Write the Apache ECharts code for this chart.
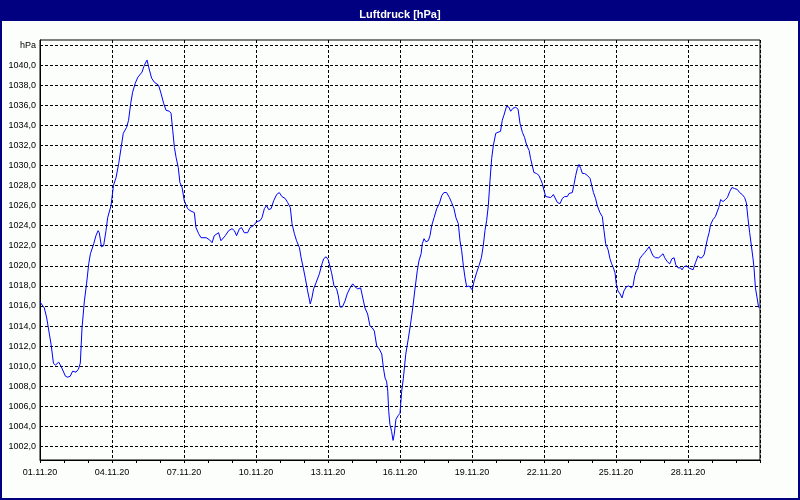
<!DOCTYPE html>
<html>
<head>
<meta charset="utf-8">
<script src="https://cdn.jsdelivr.net/npm/echarts@6/dist/echarts.min.js"></script>
<style>
html,body{margin:0;padding:0;background:#fbfefb;}
#chart{width:800px;height:500px;}
</style>
</head>
<body>
<div id="chart"></div>
<script>
// time in days since 01.11.20 00:00
var days = [
0,0.18,0.28,0.39,0.46,0.56,0.64,0.78,0.875,1.06,1.15,1.26,1.36,1.5,1.6,1.68,1.75,1.85,1.94,2.03,
2.1,2.24,2.33,2.42,2.47,2.56,2.65,2.75,2.82,2.96,3.06,3.17,3.28,3.375,3.47,3.61,3.69,3.78,3.86,3.97,
4.08,4.25,4.35,4.46,4.56,4.65,4.76,4.83,4.94,5.04,5.15,5.25,5.39,5.46,5.53,5.6,5.67,5.76,5.83,5.92,
6.01,6.15,6.25,6.43,6.5,6.61,6.71,6.92,7.06,7.17,7.26,7.44,7.54,7.61,7.72,7.86,8.0,8.1,8.19,8.31,
8.4,8.51,8.65,8.75,8.89,9.03,9.17,9.25,9.35,9.44,9.53,9.63,9.74,9.86,9.97,10.08,10.22,10.32,10.43,10.5,
10.6,10.69,10.81,10.88,10.97,11.06,11.15,11.22,11.26,11.33,11.4,11.5,11.64,11.75,11.82,11.92,12.01,12.15,12.25,12.36,
12.43,12.5,12.6,12.71,12.8,12.92,13.03,13.13,13.24,13.36,13.44,13.54,13.65,13.75,13.85,13.93,14.03,14.14,14.24,14.31,
14.38,14.44,14.49,14.53,14.58,14.65,14.71,14.76,14.83,14.93,15.0,15.07,15.14,15.24,15.35,15.44,15.53,15.63,15.72,15.79,
15.88,15.93,16.0,16.08,16.18,16.25,16.32,16.42,16.53,16.64,16.74,16.83,16.94,17.06,17.15,17.25,17.33,17.43,17.5,17.57,
17.64,17.71,17.78,17.88,17.94,18.01,18.08,18.19,18.29,18.39,18.47,18.54,18.61,18.68,18.75,18.82,18.89,18.99,19.08,19.19,
19.26,19.33,19.44,19.54,19.61,19.71,19.82,19.92,20.0,20.1,20.19,20.28,20.38,20.44,20.51,20.58,20.69,20.79,20.86,20.93,
21.0,21.07,21.14,21.28,21.39,21.44,21.56,21.67,21.76,21.86,21.97,22.04,22.18,22.25,22.32,22.39,22.46,22.53,22.6,22.69,
22.81,22.92,22.99,23.06,23.15,23.22,23.33,23.43,23.5,23.57,23.67,23.75,23.82,23.89,23.96,24.01,24.08,24.17,24.25,24.33,
24.43,24.53,24.64,24.71,24.78,24.85,24.92,24.99,25.08,25.19,25.29,25.38,25.44,25.54,25.65,25.78,25.86,25.96,26.03,26.14,
26.24,26.33,26.42,26.49,26.58,26.69,26.75,26.83,26.93,27.03,27.11,27.21,27.31,27.42,27.49,27.58,27.67,27.74,27.81,27.88,
27.94,28.04,28.14,28.22,28.28,28.36,28.46,28.56,28.64,28.74,28.83,28.94,29.06,29.15,29.26,29.36,29.43,29.5,29.57,29.64,
29.71,29.75,29.81,29.88,29.94,29.97
];
var pressure = [
1016.4,1015.8,1014.8,1013.2,1012.2,1010.3,1010.1,1010.4,1010.0,1009.0,1008.9,1009.0,1009.5,1009.4,1009.7,1010.3,1013.8,1016.5,1018.2,1020.2,
1021.2,1022.2,1023.0,1023.5,1023.3,1021.9,1022.0,1023.5,1024.8,1026.0,1028.0,1028.8,1030.2,1031.7,1033.2,1033.8,1034.5,1036.2,1037.3,1038.2,
1038.8,1039.3,1040.0,1040.5,1039.5,1038.7,1038.3,1038.4,1038.0,1037.2,1036.2,1035.5,1035.4,1035.2,1033.5,1031.8,1030.8,1029.8,1028.3,1027.8,
1026.5,1025.7,1025.5,1025.3,1023.8,1023.2,1022.8,1022.8,1022.6,1022.3,1023.0,1023.3,1022.5,1022.4,1023.0,1023.5,1023.7,1023.5,1023.0,1023.7,
1023.8,1023.3,1023.3,1023.8,1024.0,1024.4,1024.5,1024.8,1025.7,1026.0,1025.6,1025.7,1026.5,1027.1,1027.3,1026.9,1026.7,1026.3,1025.8,1024.2,
1023.2,1022.5,1021.8,1020.8,1019.8,1018.7,1017.5,1016.7,1016.2,1016.8,1017.7,1018.3,1019.2,1020.2,1020.7,1020.9,1020.6,1019.3,1018.0,1017.7,
1017.0,1015.9,1015.9,1016.5,1017.2,1017.8,1018.2,1017.9,1017.7,1017.8,1017.7,1015.8,1015.2,1014.0,1013.8,1013.5,1012.0,1011.7,1011.2,1009.8,
1008.8,1008.5,1007.5,1005.5,1004.2,1003.5,1002.6,1003.2,1004.7,1005.1,1005.3,1007.5,1008.8,1011.2,1012.8,1014.2,1015.8,1017.8,1019.5,1020.5,
1021.2,1022.2,1022.7,1022.4,1022.5,1023.0,1024.0,1024.8,1025.7,1026.2,1027.0,1027.3,1027.3,1026.8,1026.3,1025.7,1024.8,1024.2,1022.5,1021.5,
1020.0,1018.8,1017.9,1018.0,1018.1,1017.6,1018.4,1019.3,1020.0,1020.8,1022.0,1023.5,1024.5,1026.0,1028.5,1030.7,1032.0,1033.2,1033.3,1033.4,
1034.5,1035.0,1035.9,1035.8,1035.4,1035.7,1035.8,1035.6,1034.2,1033.3,1032.8,1032.0,1031.5,1030.7,1030.0,1029.3,1029.2,1029.0,1028.6,1028.2,
1027.5,1026.9,1026.8,1026.8,1027.1,1027.2,1026.3,1026.2,1026.7,1026.9,1026.9,1027.2,1027.3,1028.1,1029.0,1029.7,1030.1,1029.7,1029.2,1029.2,
1029.0,1028.7,1028.0,1027.3,1026.7,1026.0,1025.3,1024.9,1023.5,1022.2,1021.6,1020.7,1020.2,1019.8,1019.3,1018.2,1017.5,1017.2,1016.8,1017.5,
1017.9,1018.0,1017.8,1018.0,1019.0,1019.5,1019.8,1020.7,1021.0,1021.3,1021.6,1021.9,1022.0,1021.0,1020.8,1020.8,1020.9,1021.2,1020.8,1020.4,
1020.2,1020.7,1020.8,1020.1,1019.8,1019.8,1019.6,1019.9,1020.0,1019.8,1019.7,1019.6,1020.3,1021.0,1020.8,1020.8,1021.1,1021.9,1022.7,1023.3,
1024.1,1024.6,1024.9,1025.0,1025.8,1026.6,1026.4,1026.6,1026.8,1027.4,1027.8,1027.7,1027.6,1027.3,1027.1,1026.8,1026.3,1024.7,1023.3,1022.0,
1020.7,1019.8,1017.8,1016.8,1015.9,1015.8
];
var xTickLabels = ['01.11.20','04.11.20','07.11.20','10.11.20','13.11.20','16.11.20','19.11.20','22.11.20','25.11.20','28.11.20'];
var yTickValues = [1002,1004,1006,1008,1010,1012,1014,1016,1018,1020,1022,1024,1026,1028,1030,1032,1034,1036,1038,1040,1042];
var titleText = 'Luftdruck [hPa]';
var unitText = 'hPa';

var seriesData = days.map(function (d, i) { return [d, pressure[i]]; });
var font = 'Liberation Sans, Arial, sans-serif';
var chart = echarts.init(document.getElementById('chart'), null, {renderer: 'canvas'});
chart.setOption({
  backgroundColor: '#fbfefb',
  animation: false,
  title: {
    text: titleText, left: 'center', top: 4, z: 10,
    textStyle: {color: '#ffffff', fontWeight: 'bold', fontSize: 11, fontFamily: font}
  },
  graphic: [
    {type: 'rect', z: 1, shape: {x: 0, y: 0, width: 800, height: 21}, style: {fill: '#000080'}},
    {type: 'rect', z: 1, shape: {x: 1, y: 1, width: 798, height: 498}, style: {fill: null, stroke: '#000080', lineWidth: 2}}
  ],
  grid: {left: 40, right: 40, top: 40, bottom: 40, show: true, borderColor: '#000', borderWidth: 1, backgroundColor: 'transparent'},
  xAxis: {
    type: 'value', min: 0, max: 30, interval: 3,
    axisLine: {show: true, lineStyle: {color: '#000', width: 1}},
    axisTick: {show: true, length: 3, lineStyle: {color: '#000'}},
    minorTick: {show: true, splitNumber: 3, length: 3, lineStyle: {color: '#000'}},
    splitLine: {show: true, lineStyle: {color: '#000', type: [3, 2], width: 1}},
    axisLabel: {
      color: '#000', fontSize: 9, fontFamily: font, margin: 8,
      formatter: function (v) { var i = Math.round(v / 3); return (i >= 0 && i < xTickLabels.length) ? xTickLabels[i] : ''; }
    }
  },
  yAxis: {
    type: 'value', min: 1000.65, max: 1042.5,
    axisLine: {show: true, lineStyle: {color: '#000', width: 1}},
    axisTick: {show: false, customValues: yTickValues},
    splitLine: {show: true, lineStyle: {color: '#000', type: [3, 2], width: 1}},
    axisLabel: {
      color: '#000', fontSize: 9, fontFamily: font, margin: 4,
      customValues: yTickValues,
      formatter: function (v) { return v === 1042 ? unitText : v.toFixed(1).replace('.', ','); }
    }
  },
  series: [{
    type: 'line', data: seriesData, showSymbol: false, symbol: 'none',
    lineStyle: {color: '#0000ff', width: 1}, z: 5
  }]
});
</script>
</body>
</html>
